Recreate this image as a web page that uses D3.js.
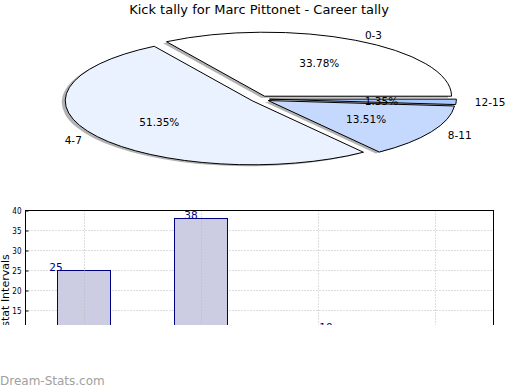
<!DOCTYPE html>
<html>
<head>
<meta charset="utf-8">
<script src="https://cdn.jsdelivr.net/npm/d3@7"></script>
<style>
  body { margin: 0; background: #fff; }
  svg { display: block; font-family: "DejaVu Sans", sans-serif; }
</style>
</head>
<body>
<svg id="chart" width="520" height="390"></svg>
<script>
var categories = ["0-3", "4-7", "8-11", "12-15"];
var tally = [25, 38, 10, 1];
var sliceColors = ["#ffffff", "#eaf1ff", "#c5d9ff", "#a9c8ff"];
var yTicks = [15, 20, 25, 30, 35, 40];

var svg = d3.select("#chart");
var total = d3.sum(tally);

// title
svg.append("text")
    .attr("x", 259).attr("y", 14)
    .attr("text-anchor", "middle")
    .style("font-size", "13px")
    .text("Kick tally for Marc Pittonet - Career tally");

// ---- pie (matplotlib style: counterclockwise from 3 o'clock, flattened) ----
var cx = 260, cy = 99, rx = 187, ry = 64, k = ry / rx;
var explode = 0.05;

var pie = d3.pie().sort(null)
    .startAngle(Math.PI / 2)
    .endAngle(Math.PI / 2 - 2 * Math.PI);
var arcs = pie(tally);
var arc = d3.arc().innerRadius(0).outerRadius(rx);

var defs = svg.append("defs");
defs.append("filter").attr("id", "blur")
  .append("feGaussianBlur").attr("stdDeviation", 0.7);

function mid(d) { return (d.startAngle + d.endAngle) / 2; }
function offX(d, f) { return f * rx * Math.sin(mid(d)); }
function offY(d, f) { return -f * ry * Math.cos(mid(d)); }

var pieG = svg.append("g");

// shadows
pieG.selectAll(".shadow").data(arcs).enter().append("path")
    .attr("class", "shadow")
    .attr("transform", function(d) {
      return "translate(" + (cx + offX(d, explode) - 3.5) + "," + (cy + offY(d, explode) + 1.5) + ") scale(1," + k + ")";
    })
    .attr("d", arc)
    .attr("fill", "#000")
    .attr("fill-opacity", 0.3)
    .attr("filter", "url(#blur)");

// slices
pieG.selectAll(".slice").data(arcs).enter().append("path")
    .attr("class", "slice")
    .attr("transform", function(d) {
      return "translate(" + (cx + offX(d, explode)) + "," + (cy + offY(d, explode)) + ") scale(1," + k + ")";
    })
    .attr("d", arc)
    .attr("fill", function(d, i) { return sliceColors[i]; })
    .attr("stroke", "#000")
    .attr("stroke-width", 1)
    .attr("vector-effect", "non-scaling-stroke");

// category labels
pieG.selectAll(".lbl").data(arcs).enter().append("text")
    .attr("x", function(d) { return cx + offX(d, explode) + offX(d, 1.1); })
    .attr("y", function(d) { return cy + offY(d, explode) + offY(d, 1.1) + 4; })
    .attr("text-anchor", function(d) { return Math.sin(mid(d)) > 0 ? "start" : "end"; })
    .style("font-size", "10.5px")
    .text(function(d, i) { return categories[i]; });

// percent labels
pieG.selectAll(".pct").data(arcs).enter().append("text")
    .attr("x", function(d) { return cx + offX(d, explode) + offX(d, 0.6); })
    .attr("y", function(d) { return cy + offY(d, explode) + offY(d, 0.6) + 4; })
    .attr("text-anchor", "middle")
    .style("font-size", "10.5px")
    .text(function(d) { return (d.value / total * 100).toFixed(2) + "%"; });

// ---- bar chart (cut off at the bottom) ----
var plotL = 25.5, plotR = 493.5, plotT = 210.5, plotB = 370.5;
defs.append("clipPath").attr("id", "cut")
  .append("rect").attr("x", 0).attr("y", 0).attr("width", 520).attr("height", 325);

var barG = svg.append("g").attr("clip-path", "url(#cut)");

var x = d3.scalePoint().domain(categories).range([plotL, plotR]).padding(0.5);
var y = d3.scaleLinear().domain([0, 40]).range([plotB, plotT]);
var labelX = d3.scaleLinear().domain([0, 3]).range([56, 461]);
var barW = x.step() * 0.45;

// grid
barG.selectAll(".hgrid").data(yTicks).enter().append("line")
    .attr("x1", plotL).attr("x2", plotR)
    .attr("y1", function(d) { return y(d); }).attr("y2", function(d) { return y(d); })
    .attr("stroke", "#bbb").attr("stroke-dasharray", "1,2");

barG.selectAll(".bar").data(tally).enter().append("rect")
    .attr("x", function(d, i) { return Math.floor(x(categories[i]) - barW / 2) + 0.5; })
    .attr("y", function(d) { return y(d); })
    .attr("width", Math.round(barW))
    .attr("height", function(d) { return plotB - y(d); })
    .attr("fill", "#ccccE2")
    .attr("stroke", "#000080")
    .attr("stroke-width", 1);

barG.selectAll(".vgrid").data(categories).enter().append("line")
    .attr("x1", function(d) { return Math.floor(x(d)) + 0.5; })
    .attr("x2", function(d) { return Math.floor(x(d)) + 0.5; })
    .attr("y1", plotT).attr("y2", plotB)
    .attr("stroke", "#bbb").attr("stroke-dasharray", "1,2");

barG.selectAll(".val").data(tally).enter().append("text")
    .attr("x", function(d, i) { return labelX(i); })
    .attr("y", function(d) { return y(d); })
    .attr("text-anchor", "middle")
    .attr("fill", "#000080")
    .style("font-size", "10.5px")
    .text(function(d) { return d; });

// axes frame + ticks
barG.append("rect")
    .attr("x", plotL).attr("y", plotT)
    .attr("width", plotR - plotL).attr("height", plotB - plotT)
    .attr("fill", "none").attr("stroke", "#000");

var yAxis = d3.axisLeft(y).tickValues(yTicks).tickSize(-3).tickPadding(4);
barG.append("g").attr("transform", "translate(" + plotL + ",0)")
    .call(yAxis)
    .call(function(g) { g.select(".domain").remove(); })
    .selectAll("text")
    .style("font-family", "DejaVu Sans Condensed, DejaVu Sans, sans-serif")
    .style("font-size", "8px");

barG.append("text")
    .attr("transform", "translate(9," + ((plotT + plotB) / 2) + ") rotate(-90)")
    .attr("text-anchor", "middle")
    .style("font-size", "11px")
    .text("stat Intervals");

// watermark
svg.append("text")
    .attr("x", 0).attr("y", 385)
    .attr("fill", "#a0a0a0")
    .style("font-size", "12px")
    .text("Dream-Stats.com");
</script>
</body>
</html>
